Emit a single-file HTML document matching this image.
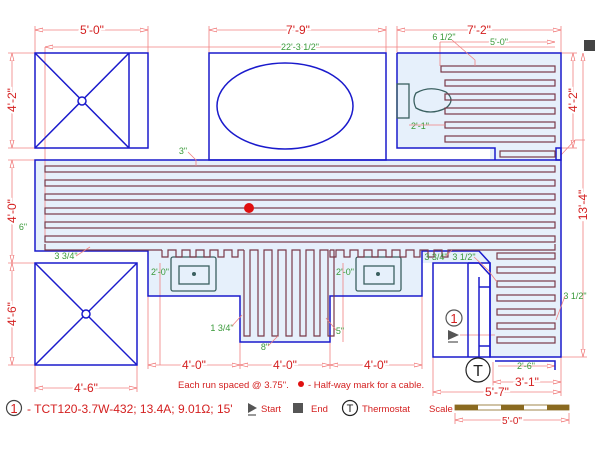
<!DOCTYPE html>
<html><head><meta charset="utf-8"><style>
html,body{margin:0;padding:0;background:#fff;}
svg{display:block;font-family:"Liberation Sans",sans-serif;}
</style></head><body>
<svg width="600" height="450" viewBox="0 0 600 450" xmlns="http://www.w3.org/2000/svg">
<defs>
<marker id="a" viewBox="0 0 10 6" refX="10" refY="3" markerWidth="10" markerHeight="6" orient="auto-start-reverse"><path d="M0,0.5 L10,3 L0,5.5 Z" fill="#fff" stroke="#e66" stroke-width="0.8"/></marker>
</defs>
<g fill="#e6f0fb" stroke="none">
<rect x="35" y="160" width="526" height="91"/>
<rect x="397" y="53" width="164" height="95"/>
<rect x="490" y="148" width="71" height="209"/>
<polygon points="148,251 240,251 240,342 330,342 330,296 422,296 422,263 490,263 490,251"/>
<rect x="148" y="251" width="274" height="45"/>
</g>
<g stroke="#f08080" stroke-width="0.8" fill="none">
<line x1="35" y1="30" x2="148" y2="30" marker-start="url(#a)" marker-end="url(#a)"/>
<line x1="209" y1="30" x2="386" y2="30" marker-start="url(#a)" marker-end="url(#a)"/>
<line x1="397" y1="30" x2="561" y2="30" marker-start="url(#a)" marker-end="url(#a)"/>
<line x1="35" y1="26" x2="35" y2="53"/><line x1="148" y1="26" x2="148" y2="53"/>
<line x1="209" y1="26" x2="209" y2="53"/><line x1="386" y1="26" x2="386" y2="53"/>
<line x1="397" y1="26" x2="397" y2="53"/><line x1="561" y1="26" x2="561" y2="53"/>
<line x1="45" y1="47" x2="555" y2="47" marker-start="url(#a)"/>
<line x1="45" y1="47" x2="45" y2="240"/>
<line x1="440" y1="42" x2="555" y2="42" marker-end="url(#a)"/>
<line x1="440" y1="42" x2="440" y2="66"/>
<line x1="12" y1="53" x2="12" y2="148" marker-start="url(#a)" marker-end="url(#a)"/>
<line x1="8" y1="53" x2="35" y2="53"/><line x1="8" y1="148" x2="35" y2="148"/>
<line x1="12" y1="160" x2="12" y2="263" marker-start="url(#a)" marker-end="url(#a)"/>
<line x1="8" y1="160" x2="35" y2="160"/>
<line x1="12" y1="263" x2="12" y2="365" marker-start="url(#a)" marker-end="url(#a)"/>
<line x1="8" y1="365" x2="35" y2="365"/><line x1="8" y1="263" x2="35" y2="263"/>
<line x1="573" y1="53" x2="573" y2="148" marker-start="url(#a)" marker-end="url(#a)"/>
<line x1="561" y1="148" x2="577" y2="148"/><line x1="561" y1="53" x2="577" y2="53"/>
<line x1="583" y1="53" x2="583" y2="357" marker-start="url(#a)" marker-end="url(#a)"/>
<line x1="561" y1="357" x2="587" y2="357"/>
<line x1="148" y1="365" x2="240" y2="365" marker-start="url(#a)" marker-end="url(#a)"/>
<line x1="240" y1="365" x2="330" y2="365" marker-start="url(#a)" marker-end="url(#a)"/>
<line x1="330" y1="365" x2="422" y2="365" marker-start="url(#a)" marker-end="url(#a)"/>
<line x1="148" y1="296" x2="148" y2="369"/><line x1="240" y1="342" x2="240" y2="369"/>
<line x1="330" y1="342" x2="330" y2="369"/><line x1="422" y1="296" x2="422" y2="369"/>
<line x1="35" y1="388" x2="137" y2="388" marker-start="url(#a)" marker-end="url(#a)"/>
<line x1="35" y1="365" x2="35" y2="392"/><line x1="137" y1="365" x2="137" y2="392"/>
<line x1="493" y1="382" x2="561" y2="382" marker-start="url(#a)" marker-end="url(#a)"/>
<line x1="433" y1="392" x2="561" y2="392" marker-start="url(#a)" marker-end="url(#a)"/>
<line x1="433" y1="357" x2="433" y2="396"/><line x1="561" y1="357" x2="561" y2="396"/>
<line x1="493" y1="362" x2="493" y2="386"/>
<line x1="498" y1="366" x2="555" y2="366" marker-end="url(#a)"/>
<line x1="455" y1="420" x2="569" y2="420" marker-start="url(#a)" marker-end="url(#a)"/>
<line x1="455" y1="413" x2="455" y2="424"/><line x1="569" y1="413" x2="569" y2="424"/>
<line x1="160" y1="263" x2="160" y2="365"/><line x1="343" y1="263" x2="343" y2="342"/>
<line x1="460" y1="335" x2="495" y2="335"/>
<line x1="561" y1="155" x2="575" y2="140"/><line x1="575" y1="140" x2="585" y2="140"/>
</g>
<g stroke="#1a1acc" stroke-width="1.5" fill="none">
<rect x="35" y="53" width="113" height="95"/>
<line x1="129" y1="53" x2="129" y2="148"/>
<line x1="35" y1="53" x2="129" y2="148"/><line x1="129" y1="53" x2="35" y2="148"/>
<circle cx="82" cy="101" r="4" fill="#fff"/>
<rect x="209" y="53" width="177" height="107"/>
<ellipse cx="285" cy="106" rx="68" ry="43"/>
<polyline points="397,53 561,53 561,357 490,357 490,263 479,251 422,251 422,296 330,296 330,342 240,342 240,296 148,296 148,251 35,251 35,160 561,160"/>
<polyline points="397,53 397,148 495,148 495,160"/>
<rect x="35" y="263" width="102" height="102"/>
<line x1="35" y1="263" x2="137" y2="365"/><line x1="137" y1="263" x2="35" y2="365"/>
<circle cx="86" cy="314" r="4" fill="#fff"/>
<rect x="433" y="263" width="57" height="94"/>
<line x1="468" y1="263" x2="468" y2="357"/><line x1="479" y1="277" x2="479" y2="357"/>
<polyline points="468,263 479,263 490,275"/>
<line x1="479" y1="287" x2="490" y2="287"/><line x1="479" y1="346" x2="490" y2="346"/>
<rect x="556" y="148" width="5" height="12"/>
<polyline points="495,361 555,361 555,370"/>
</g>
<g stroke="#3a6060" stroke-width="1.3" fill="none">
<rect x="397" y="84" width="12" height="34"/>
<path d="M416,93 Q430,85 446,92 Q456,100 446,108 Q430,116 416,108 Q412,100 416,93Z"/>
<rect x="171" y="257" width="45" height="34" rx="2"/><rect x="179" y="266" width="30" height="18"/>
<rect x="356" y="257" width="45" height="34" rx="2"/><rect x="364" y="266" width="30" height="18"/>
</g>
<circle cx="194" cy="274" r="2" fill="#3a6060"/><circle cx="378" cy="274" r="2" fill="#3a6060"/>
<g stroke="#7a3a4a" stroke-width="1.2" fill="none">
<rect x="45" y="166" width="510" height="6"/><rect x="45" y="180" width="510" height="6"/>
<rect x="45" y="194" width="510" height="6"/><rect x="45" y="208" width="510" height="6"/>
<rect x="45" y="222" width="510" height="6"/><rect x="45" y="236" width="510" height="6"/>
<polyline points="45,244 45,250 162,250"/>
<path d="M162,250 v7 h6 v-7 h8 v7 h6 v-7 h8 v7 h6 v-7 h8 v7 h6 v-7 h8 v7 h6 v-7 h8 v7 h6 v-7 h6"/>
<path d="M244,250 v86 h6 v-86 h8 v86 h6 v-86 h8 v86 h6 v-86 h8 v86 h6 v-86 h8 v86 h6 v-86 h8 v86 h6 v-86 h8 v86 h6 v-86 H330"/>
<path d="M330,250 v7 h6 v-7 h8 v7 h6 v-7 h8 v7 h6 v-7 h8 v7 h6 v-7 h8 v7 h6 v-7 h8 v7 h6 v-7 h8 v7 h6 v-7 h8 v7 h6 v-7 h8 v7 h6 v-7 H555 v-6"/>
<rect x="441" y="66" width="114" height="6"/><rect x="445" y="80" width="110" height="6"/>
<rect x="445" y="94" width="110" height="6"/><rect x="445" y="108" width="110" height="6"/>
<rect x="445" y="122" width="110" height="6"/><rect x="445" y="136" width="110" height="6"/>
<rect x="500" y="151" width="55" height="6"/>
<rect x="497" y="253" width="58" height="6"/><rect x="497" y="267" width="58" height="6"/>
<rect x="497" y="281" width="58" height="6"/><rect x="497" y="295" width="58" height="6"/>
<rect x="497" y="309" width="58" height="6"/><rect x="497" y="323" width="58" height="6"/>
<rect x="497" y="337" width="58" height="6"/>
</g>
<circle cx="249" cy="208" r="5" fill="#e01010"/>
<rect x="584" y="40" width="11" height="11" fill="#444"/>
<g fill="#d42020" font-size="12" text-anchor="middle">
<text x="92" y="34" stroke="#fff" stroke-width="4" paint-order="stroke">5'-0"</text>
<text x="298" y="34" stroke="#fff" stroke-width="4" paint-order="stroke">7'-9"</text>
<text x="479" y="34" stroke="#fff" stroke-width="4" paint-order="stroke">7'-2"</text>
<text x="194" y="369" stroke="#fff" stroke-width="4" paint-order="stroke">4'-0"</text>
<text x="285" y="369" stroke="#fff" stroke-width="4" paint-order="stroke">4'-0"</text>
<text x="376" y="369" stroke="#fff" stroke-width="4" paint-order="stroke">4'-0"</text>
<text x="86" y="392" stroke="#fff" stroke-width="4" paint-order="stroke">4'-6"</text>
<text x="527" y="386" stroke="#fff" stroke-width="4" paint-order="stroke">3'-1"</text>
<text x="497" y="396" stroke="#fff" stroke-width="4" paint-order="stroke">5'-7"</text>
<text x="16" y="100" transform="rotate(-90 16 100)" stroke="#fff" stroke-width="4" paint-order="stroke">4'-2"</text>
<text x="16" y="211" transform="rotate(-90 16 211)" stroke="#fff" stroke-width="4" paint-order="stroke">4'-0"</text>
<text x="16" y="314" transform="rotate(-90 16 314)" stroke="#fff" stroke-width="4" paint-order="stroke">4'-6"</text>
<text x="577" y="100" transform="rotate(-90 577 100)" stroke="#fff" stroke-width="4" paint-order="stroke">4'-2"</text>
<text x="587" y="205" transform="rotate(-90 587 205)" stroke="#fff" stroke-width="4" paint-order="stroke">13'-4"</text>
<text x="512" y="424" font-size="10" stroke="#fff" stroke-width="4" paint-order="stroke">5'-0"</text>
<text x="454" y="323" font-size="13">1</text>
<text x="14" y="413" font-size="13">1</text>
</g>
<g fill="#d42020" text-anchor="start">
<text x="178" y="388" font-size="9.5">Each run spaced @ 3.75".</text>
<text x="308" y="388" font-size="9.5">- Half-way mark for a cable.</text>
<text x="27" y="413" font-size="12">- TCT120-3.7W-432; 13.4A; 9.01Ω; 15'</text>
<text x="261" y="412" font-size="9.5">Start</text>
<text x="311" y="412" font-size="9.5">End</text>
<text x="362" y="412" font-size="9.5">Thermostat</text>
<text x="429" y="412" font-size="9.5">Scale</text>
</g>
<circle cx="301" cy="384" r="3" fill="#e01010"/>
<g fill="#3a9a3a" font-size="9" text-anchor="middle">
<text x="300" y="50" stroke="#fff" stroke-width="3" paint-order="stroke">22'-3 1/2"</text>
<text x="499" y="45" stroke="#fff" stroke-width="3" paint-order="stroke">5'-0"</text>
<text x="444" y="40">6 1/2"</text>
<text x="420" y="129" stroke="#e6f0fb" stroke-width="3" paint-order="stroke">2'-1"</text>
<text x="183" y="154">3"</text>
<text x="23" y="230">6"</text>
<text x="66" y="259">3 3/4"</text>
<text x="160" y="275">2'-0"</text>
<text x="345" y="275">2'-0"</text>
<text x="222" y="331">1 3/4"</text>
<text x="265" y="350">8"</text>
<text x="340" y="334">5"</text>
<text x="436" y="260">3 3/4"</text>
<text x="464" y="260">3 1/2"</text>
<text x="575" y="299">3 1/2"</text>
<text x="526" y="369">2'-6"</text>
</g>
<g stroke="#f08080" stroke-width="0.8" fill="none">
<polyline points="188,152 196,160 196,166"/>
<polyline points="452,40 475,60 475,66"/>
<line x1="409" y1="125" x2="445" y2="125"/>
<line x1="76" y1="256" x2="90" y2="247"/>
<line x1="232" y1="326" x2="242" y2="315"/>
<line x1="268" y1="346" x2="278" y2="336"/>
<line x1="336" y1="330" x2="326" y2="318"/>
<line x1="446" y1="256" x2="452" y2="250"/>
<polyline points="474,257 488,270 497,282"/>
<line x1="565" y1="296" x2="556" y2="320"/>
</g>
<g fill="none" stroke="#444" stroke-width="1.2">
<circle cx="454" cy="318" r="8" stroke="#555"/>
<circle cx="14" cy="408" r="7.5"/>
<circle cx="478" cy="370" r="12" stroke="#222"/>
<circle cx="350" cy="408" r="7.5" stroke="#222"/>
</g>
<g fill="#222" text-anchor="middle"><text x="478" y="376" font-size="16">T</text><text x="350" y="412" font-size="11">T</text></g>
<path d="M448,330 L459,335 L448,340 Z" fill="#555"/><line x1="448" y1="342" x2="458" y2="342" stroke="#555" stroke-width="1.2"/>
<path d="M248,403 L257,408 L248,413 Z" fill="#555"/><line x1="248" y1="415" x2="256" y2="415" stroke="#555" stroke-width="1.2"/>
<rect x="293" y="403" width="10" height="10" fill="#555"/>
<rect x="455" y="405" width="114" height="5" fill="#fff" stroke="#8a6a20" stroke-width="0.8"/>
<rect x="455" y="405" width="23" height="5" fill="#8a6a20"/><rect x="501" y="405" width="23" height="5" fill="#8a6a20"/><rect x="547" y="405" width="22" height="5" fill="#8a6a20"/>
</svg>
</body></html>
